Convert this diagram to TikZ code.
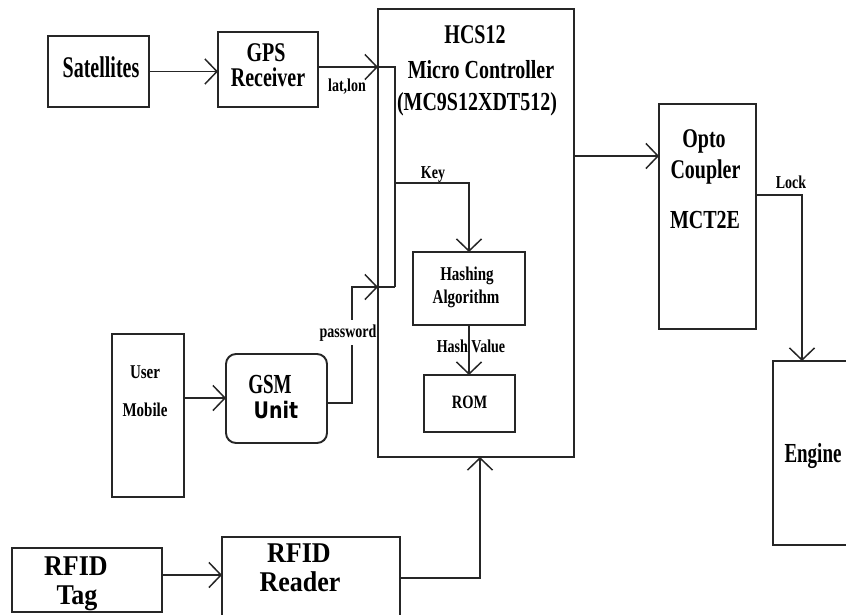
\documentclass[tikz,border=0pt]{standalone}
\usepackage{fontspec}
\setmainfont{Liberation Serif}
\newfontfamily\unitfont{DejaVu Sans}
\usepackage{graphicx}
\usetikzlibrary{arrows.meta}
\newcommand\vs[2]{\scalebox{1}[#1]{#2}}
\definecolor{ln}{HTML}{262626}
\tikzset{
  box/.style={draw=ln, line width=1.9pt, anchor=north west, inner sep=0pt, outer sep=0pt},
  wire/.style={draw=ln, line width=1.6pt},
  arr/.style={wire, -{Straight Barb[length=12pt,width=25pt,line width=1.5pt]}},
  txt/.style={anchor=base, inner sep=0pt, text=black},
  big/.style={txt, font=\bfseries\fontsize{20}{24}\selectfont},
  mid/.style={txt, font=\bfseries\fontsize{15}{18}\selectfont},
  small/.style={txt, font=\bfseries\fontsize{14}{16}\selectfont},
  huge/.style={txt, font=\bfseries\fontsize{26}{30}\selectfont},
}
\begin{document}
\begin{tikzpicture}[x=1pt,y=-1pt]
\useasboundingbox (0,0) rectangle (846,614);
\clip (0,0) rectangle (846,614);
\fill[white] (0,0) rectangle (846,614);

% boxes
\node[box, minimum width=101pt, minimum height=71pt] (sat) at (48,36) {};
\node[box, minimum width=100pt, minimum height=75pt] (gps) at (218,32) {};
\node[box, minimum width=196pt, minimum height=448pt] (mc) at (378,9) {};
\node[box, minimum width=112pt, minimum height=73pt] (hash) at (413,252) {};
\node[box, minimum width=91pt, minimum height=57pt] (rom) at (424,375) {};
\node[box, minimum width=97pt, minimum height=225pt] (opto) at (659,104) {};
\node[box, minimum width=100pt, minimum height=184pt] (engine) at (773,361) {};
\node[box, minimum width=72pt, minimum height=163pt] (user) at (112,334) {};
\node[box, minimum width=101pt, minimum height=89pt, rounded corners=10pt] (gsm) at (226,354) {};
\node[box, minimum width=150pt, minimum height=64pt] (tag) at (12,548) {};
\node[box, minimum width=178pt, minimum height=90pt] (reader) at (222,537) {};

% helper coordinates
\coordinate (jA) at (395,67);
\coordinate (jB) at (395,287);
\coordinate (jK) at (395,183);
\coordinate (jP) at (352,403);
\coordinate (jU) at (0,398);
\coordinate (jO) at (0,156);
\coordinate (jL) at (802,195);
\coordinate (jT) at (0,575);
\coordinate (jR) at (480,578);

% connectors
\draw[arr] (sat.east) -- (sat.east -| gps.west);
\draw[arr] (jA -| gps.east) -- (jA -| mc.west);
\draw[wire] (jA -| mc.west) -- (jA) -- (jB);
\draw[arr] (jK) -- (jK -| hash.north) -- (hash.north);
\draw[arr] (hash.south) -- (hash.south |- rom.north);
\draw[arr] (jU -| user.east) -- (jU -| gsm.west);
\draw[arr] (jP -| gsm.east) -- (jP) -- (jP |- jB) -- (jB -| mc.west);
\draw[wire] (jB -| mc.west) -- (jB);
\draw[arr] (jO -| mc.east) -- (jO -| opto.west);
\draw[arr] (jL -| opto.east) -- (jL) -- (jL |- engine.north);
\draw[arr] (jT -| tag.east) -- (jT -| reader.west);
\draw[arr] (jR -| reader.east) -- (jR) -- (jR |- mc.south);

% texts
\node[big] (tSat) at (101,77) {\vs{1.5}{Satellites}};
\node[big] (tGps1) at (266,61) {\vs{1.35}{GPS}};
\node[big] (tGps2) at (268,86) {\vs{1.35}{Receiver}};
\node[small] (tLat) at (347,91) {\vs{1.3}{lat,lon}};
\node[big] (tMc1) at (475,43) {\vs{1.35}{HCS12}};
\node[big] (tMc2) at (481,78) {\vs{1.3}{Micro Controller}};
\node[big] (tMc3) at (477,110) {\vs{1.3}{(MC9S12XDT512)}};
\node[small] (tKey) at (433,178) {\vs{1.3}{Key}};
\node[mid] (tHa1) at (467,280) {\vs{1.3}{Hashing}};
\node[mid] (tHa2) at (466,303) {\vs{1.3}{Algorithm}};
\node[small] (tHv) at (471,352) {\vs{1.3}{Hash Value}};
\node[small, font=\bfseries\fontsize{14.5}{16}\selectfont] (tRom) at (469.5,408) {\vs{1.3}{ROM}};
\node[big] (tOp1) at (704,147) {\vs{1.35}{Opto}};
\node[big] (tOp2) at (705.5,178) {\vs{1.35}{Coupler}};
\node[big] (tOp3) at (705,228) {\vs{1.3}{MCT2E}};
\node[small] (tLock) at (791,188) {\vs{1.3}{Lock}};
\node[big, font=\bfseries\fontsize{19}{22}\selectfont] (tEng) at (813,462) {\vs{1.45}{Engine}};
\node[mid] (tUs1) at (145,378) {\vs{1.3}{User}};
\node[mid] (tUs2) at (145,416) {\vs{1.3}{Mobile}};
\node[big, font=\bfseries\fontsize{19}{22}\selectfont] (tGsm1) at (270,393) {\vs{1.45}{GSM}};
\node[big, font=\unitfont\bfseries\fontsize{19}{22}\selectfont] (tGsm2) at (276,418) {\vs{1.2}{Unit}};
\node[small, fill=white, inner xsep=1pt, inner ysep=4pt] (tPw) at (348,337) {\vs{1.3}{password}};
\node[huge] (tTag1) at (76,575) {\vs{1.1}{RFID}};
\node[huge] (tTag2) at (77,604) {\vs{1.1}{Tag}};
\node[huge] (tRd1) at (299,562) {\vs{1.1}{RFID}};
\node[huge] (tRd2) at (300,591) {\vs{1.1}{Reader}};
\end{tikzpicture}
\end{document}
